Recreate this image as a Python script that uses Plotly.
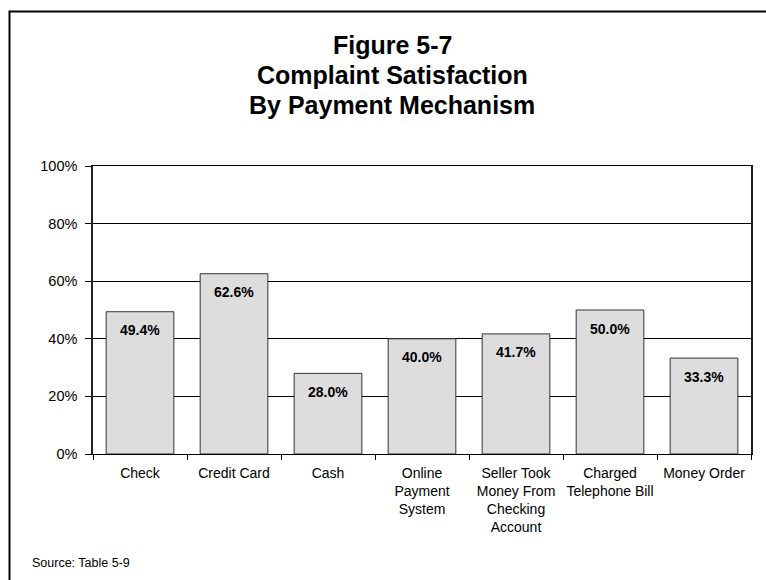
import plotly.graph_objects as go

# Complaint satisfaction rate (%) by payment mechanism
categories = [
    "Check",
    "Credit Card",
    "Cash",
    "Online<br>Payment<br>System",
    "Seller Took<br>Money From<br>Checking<br>Account",
    "Charged<br>Telephone Bill",
    "Money Order",
]
satisfaction = [49.4, 62.6, 28.0, 40.0, 41.7, 50.0, 33.3]
y_ticks = [0, 20, 40, 60, 80, 100]
y_tick_labels = ["0%", "20%", "40%", "60%", "80%", "100%"]
title_lines = ["Figure 5-7", "Complaint Satisfaction", "By Payment Mechanism"]
source_note = "Source: Table 5-9"

FONT = "Arial, 'Liberation Sans', sans-serif"

W, H = 766, 580
L, R, T, B = 93, 15, 166, 126
plot_w = W - L - R
plot_h = H - T - B


def px_x(px):
    return (px - L) / plot_w


def px_y(py):
    return (H - B - py) / plot_h


fig = go.Figure(
    go.Bar(
        x=categories,
        y=satisfaction,
        marker=dict(color="#DDDDDD", line=dict(color="#333333", width=1)),
        hoverinfo="x+y",
    )
)

annotations = []
# value labels inside each bar, just below its top
for cat, val in zip(categories, satisfaction):
    annotations.append(
        dict(
            x=cat, y=val, xref="x", yref="y",
            text=f"<b>{val:.1f}%</b>",
            showarrow=False, yanchor="middle", yshift=-18.5,
            font=dict(family=FONT, size=14, color="#000000"),
        )
    )

# three-line centred heading
for line, py in zip(title_lines, [45, 75, 105]):
    annotations.append(
        dict(
            x=px_x(392), y=px_y(py), xref="paper", yref="paper",
            text=f"<b>{line}</b>", showarrow=False,
            xanchor="center", yanchor="middle",
            font=dict(family=FONT, size=25, color="#000000"),
        )
    )

annotations.append(
    dict(
        x=px_x(30), y=px_y(563), xref="paper", yref="paper",
        text=source_note, showarrow=False,
        xanchor="left", yanchor="middle",
        font=dict(family=FONT, size=12.5, color="#000000"),
    )
)

fig.update_layout(
    width=W, height=H,
    margin=dict(l=L, r=R, t=T, b=B, pad=0, autoexpand=False),
    paper_bgcolor="white",
    plot_bgcolor="white",
    showlegend=False,
    bargap=0.28,
    font=dict(family=FONT, size=14, color="#000000"),
    annotations=annotations,
    shapes=[
        # outer frame of the figure
        dict(
            type="rect", xref="paper", yref="paper",
            x0=px_x(9.5), x1=px_x(775), y0=px_y(590), y1=px_y(11.5),
            line=dict(color="#000000", width=2), fillcolor="rgba(0,0,0,0)",
            layer="above",
        )
    ],
)

fig.update_xaxes(
    showline=True, linecolor="#000000", linewidth=1, mirror=True,
    ticks="outside", tickson="boundaries", ticklen=5, tickcolor="#000000",
    tickangle=0, automargin=False,
    tickfont=dict(family=FONT, size=14, color="#000000"),
    ticklabelstandoff=6,
    showgrid=False,
)

fig.update_yaxes(
    range=[0, 100],
    tickvals=y_ticks, ticktext=y_tick_labels,
    showline=True, linecolor="#222222", linewidth=1.5, mirror=True,
    ticks="outside", ticklen=6, tickcolor="#000000",
    automargin=False,
    tickfont=dict(family=FONT, size=14.5, color="#000000"),
    ticklabelstandoff=5,
    showgrid=True, gridcolor="#000000", gridwidth=1,
    zeroline=False,
)

fig.write_html("out.html")
